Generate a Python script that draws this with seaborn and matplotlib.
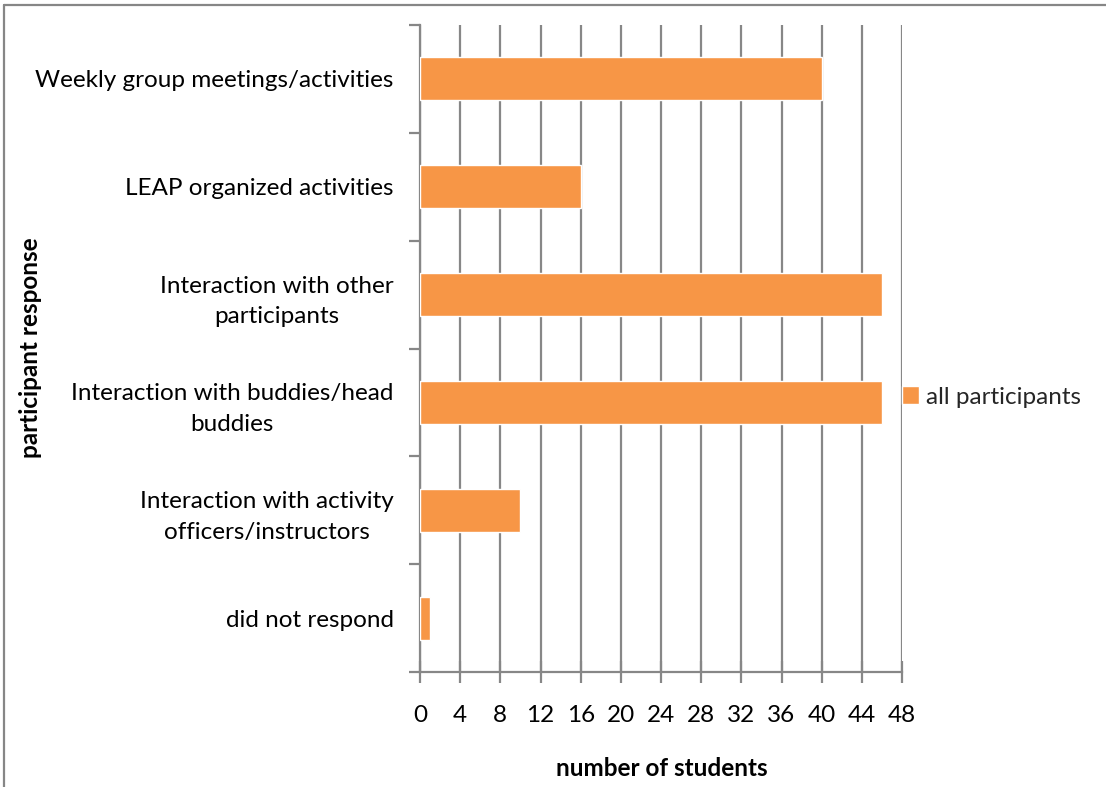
import matplotlib
matplotlib.use("Agg")
import matplotlib.pyplot as plt
from matplotlib.lines import Line2D
import seaborn as sns
import pandas as pd

categories = [
    "Weekly group meetings/activities",
    "LEAP organized activities",
    "Interaction with other\nparticipants",
    "Interaction with buddies/head\nbuddies",
    "Interaction with activity\nofficers/instructors",
    "did not respond",
]
counts = [40, 16, 46, 46, 10, 1]
series_name = "all participants"
x_ticks = list(range(0, 49, 4))

sns.set_theme(style="white")
plt.rcParams["font.family"] = ["Lato", "DejaVu Sans"]

FS = 17.5

df = pd.DataFrame({"response": categories, "count": counts, "group": series_name})

fig = plt.figure(figsize=(11.06, 7.87), dpi=100)
ax = fig.add_axes([420 / 1106, 1 - 672 / 787, 482 / 1106, 647 / 787])

sns.barplot(data=df, y="response", x="count", hue="group", orient="h",
            palette=["#F79646"], width=0.4, ax=ax, saturation=1, zorder=3)

grid_color = "#878787"
ax.set_xlim(0, 48)
ax.set_ylim(len(categories) - 0.5, -0.5)
ax.set_xticks(x_ticks)
ax.set_xticklabels([str(t) for t in x_ticks], fontsize=FS, color="#000000")
ax.xaxis.grid(True, color=grid_color, linewidth=1.6, zorder=0)
ax.yaxis.grid(False)
ax.set_axisbelow(True)

# category labels, ticks placed at the slot boundaries
ax.set_yticks(range(len(categories)))
ax.set_yticklabels(categories, fontsize=FS, color="#000000", multialignment="center",
                   linespacing=1.55)
ax.tick_params(axis="y", length=0, pad=19)
ax.set_yticks([i - 0.5 for i in range(len(categories) + 1)], minor=True)
ax.tick_params(axis="y", which="minor", length=8, width=1.6, color=grid_color, left=True)
ax.tick_params(axis="x", which="major", direction="inout", length=16, width=1.6,
               color=grid_color, bottom=True, pad=16)

for side in ("top", "right"):
    ax.spines[side].set_visible(False)
for side in ("left", "bottom"):
    ax.spines[side].set_color(grid_color)
    ax.spines[side].set_linewidth(1.6)

ax.set_xlabel("")
ax.set_ylabel("")

leg = ax.legend(loc="center left", bbox_to_anchor=(880 / 1106, 1 - 397 / 787),
                bbox_transform=fig.transFigure, frameon=False, fontsize=FS,
                handlelength=0.7, handleheight=0.7, handletextpad=0.3)

fig.text(662 / 1106, 1 - 768 / 787, "number of students", ha="center", va="center",
         fontsize=FS, fontweight="bold", color="#000000")
fig.text(31 / 1106, 1 - 348 / 787, "participant response", ha="center", va="center",
         rotation=90, fontsize=FS, fontweight="bold", color="#000000")

# outer frame (left and top edges)
fig.add_artist(Line2D([4 / 1106, 4 / 1106], [0, 1 - 5 / 787], transform=fig.transFigure,
                      color="#868686", linewidth=1.6))
fig.add_artist(Line2D([4 / 1106, 1], [1 - 5 / 787, 1 - 5 / 787], transform=fig.transFigure,
                      color="#868686", linewidth=1.6))

fig.savefig("out.png", dpi=100, facecolor="white")
